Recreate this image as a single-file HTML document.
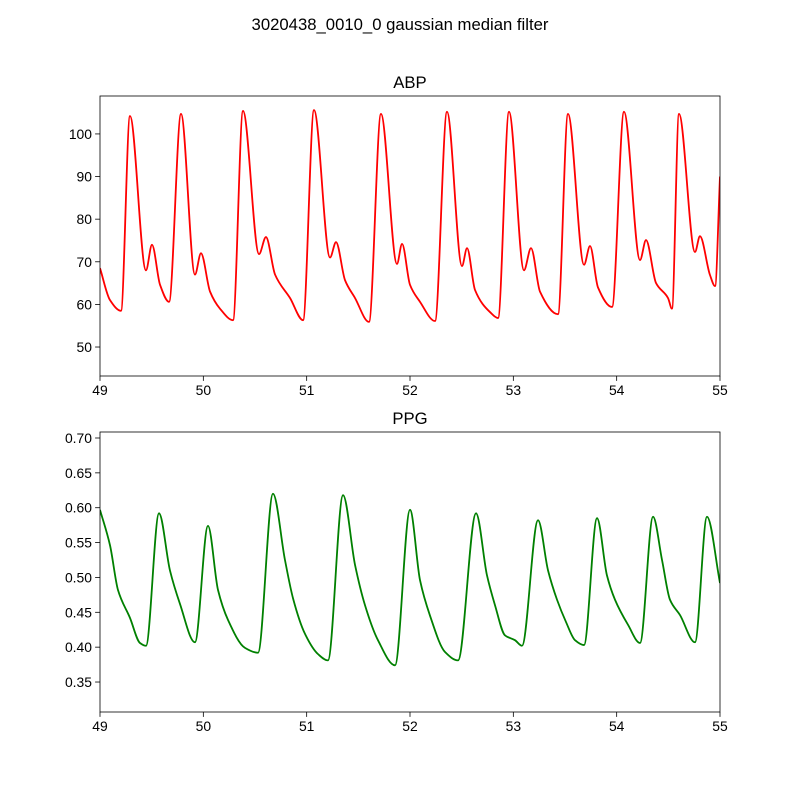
<!DOCTYPE html>
<html><head><meta charset="utf-8"><style>body{margin:0;background:#fff}svg{display:block;font-family:"Liberation Sans","DejaVu Sans",sans-serif}</style></head>
<body>
<svg id="fig" width="800" height="800" viewBox="0 0 800 800">
<rect width="800" height="800" fill="#fff"/>
<text x="400" y="30" text-anchor="middle" font-size="16.7">3020438_0010_0 gaussian median filter</text>
<defs>
<clipPath id="c1"><rect x="100" y="96" width="620" height="280"/></clipPath>
<clipPath id="c2"><rect x="100" y="432" width="620" height="280"/></clipPath>
</defs>
<g id="ax1"></g>
<g id="ax2"></g>
</svg>
<script>
const abpT=[49.000,49.097,49.203,49.290,49.445,49.503,49.581,49.668,49.784,49.919,49.977,50.065,50.161,50.287,50.384,50.539,50.606,50.694,50.839,50.965,51.071,51.226,51.284,51.371,51.468,51.603,51.719,51.874,51.923,52.000,52.097,52.242,52.358,52.503,52.552,52.629,52.774,52.852,52.958,53.103,53.171,53.258,53.432,53.529,53.684,53.742,53.819,53.955,54.071,54.226,54.284,54.381,54.497,54.535,54.603,54.758,54.806,54.903,54.952,55.000];
const abpV=[68.5,61,58.5,104.2,68,74,64.6,60.6,104.7,67,72,63,59,56.3,105.4,71.8,75.8,67,61.5,56.3,105.6,71,74.6,65.7,61.5,55.9,104.7,69.5,74.2,64.6,60.6,56.1,105.2,69,73.2,63.4,58.2,56.8,105.2,68,73.2,63,57.7,104.7,69.3,73.7,64,59.4,105.2,70.4,75.1,65,61.5,59,104.7,72.3,76,66.9,64.3,90];
const ppgT=[49.000,49.097,49.174,49.290,49.387,49.445,49.571,49.677,49.774,49.919,50.045,50.142,50.239,50.403,50.529,50.674,50.790,50.868,50.984,51.110,51.206,51.352,51.468,51.565,51.690,51.855,52.000,52.097,52.194,52.339,52.465,52.639,52.745,52.823,52.919,53.016,53.084,53.239,53.336,53.423,53.510,53.597,53.684,53.810,53.906,53.984,54.110,54.226,54.352,54.439,54.516,54.613,54.758,54.874,55.000];
const ppgV=[0.597,0.546,0.482,0.442,0.406,0.402,0.592,0.51,0.462,0.407,0.574,0.482,0.439,0.399,0.392,0.62,0.525,0.47,0.419,0.39,0.381,0.618,0.518,0.46,0.41,0.374,0.597,0.496,0.445,0.393,0.381,0.592,0.503,0.46,0.417,0.41,0.402,0.582,0.51,0.468,0.436,0.41,0.403,0.585,0.503,0.468,0.432,0.406,0.587,0.525,0.468,0.446,0.407,0.587,0.492];
const xTicks=[49,50,51,52,53,54,55];
const abpTicks=[50,60,70,80,90,100];
const ppgTicks=[0.35,0.40,0.45,0.50,0.55,0.60,0.65,0.70];
const NS="http://www.w3.org/2000/svg";
function mk(p,tag,a){const e=document.createElementNS(NS,tag);for(const k in a)e.setAttribute(k,a[k]);p.appendChild(e);return e;}
function monoPath(pts){
 const n=pts.length,dx=[],sl=[],m=[];
 for(let i=0;i<n-1;i++){dx[i]=pts[i+1][0]-pts[i][0];sl[i]=(pts[i+1][1]-pts[i][1])/dx[i];}
 m[0]=sl[0];m[n-1]=sl[n-2];
 for(let i=1;i<n-1;i++){ if(sl[i-1]*sl[i]<=0)m[i]=0; else {const w1=2*dx[i]+dx[i-1],w2=dx[i]+2*dx[i-1];m[i]=(w1+w2)/(w1/sl[i-1]+w2/sl[i]);}}
 let d='M'+pts[0][0].toFixed(2)+','+pts[0][1].toFixed(2);
 for(let i=0;i<n-1;i++){const h=dx[i]/3;
  d+=' C'+(pts[i][0]+h).toFixed(2)+','+(pts[i][1]+m[i]*h).toFixed(2)+' '+(pts[i+1][0]-h).toFixed(2)+','+(pts[i+1][1]-m[i+1]*h).toFixed(2)+' '+pts[i+1][0].toFixed(2)+','+pts[i+1][1].toFixed(2);}
 return d;
}
function panel(g,top,yMin,yMax,T,V,color,title,yTicks,dec,clip,nm){
 const L=100,W=620,H=280;
 const sx=t=>L+(t-49)/6*W, sy=v=>top+H-(v-yMin)/(yMax-yMin)*H;
 const tt=mk(g,'text',{x:410,y:top-8,'text-anchor':'middle','font-size':16.7});tt.textContent=title;
 
 
 const pts=T.map((t,i)=>[sx(t),sy(V[i])]);
 const ln=mk(g,'path',{d:monoPath(pts),fill:'none',stroke:color,'stroke-width':1.8,'clip-path':'url(#'+clip+')'});
 
 
 xTicks.forEach(t=>{const x=sx(t);mk(g,'line',{x1:x,x2:x,y1:top+H,y2:top+H+4.9,stroke:'#000','stroke-width':0.8});
  const tx=mk(g,'text',{x:x,y:top+H+19,'text-anchor':'middle','font-size':13.9});tx.textContent=t;
  
  });
 yTicks.forEach(v=>{const y=sy(v);mk(g,'line',{x1:L-4.9,x2:L,y1:y,y2:y,stroke:'#000','stroke-width':0.8});
  const tx=mk(g,'text',{x:L-8,y:y+5,'text-anchor':'end','font-size':13.9});tx.textContent=v.toFixed(dec);
  
  });
 const fr=mk(g,'rect',{x:L,y:top,width:W,height:H,fill:'none',stroke:'#000','stroke-width':0.8});
 
 
}
panel(document.getElementById('ax1'),96,43.2,108.9,abpT,abpV,'#ff0000','ABP',abpTicks,0,'c1','abp');
panel(document.getElementById('ax2'),432,0.307,0.7086,ppgT,ppgV,'#008000','PPG',ppgTicks,2,'c2','ppg');
</script>
</body></html>
